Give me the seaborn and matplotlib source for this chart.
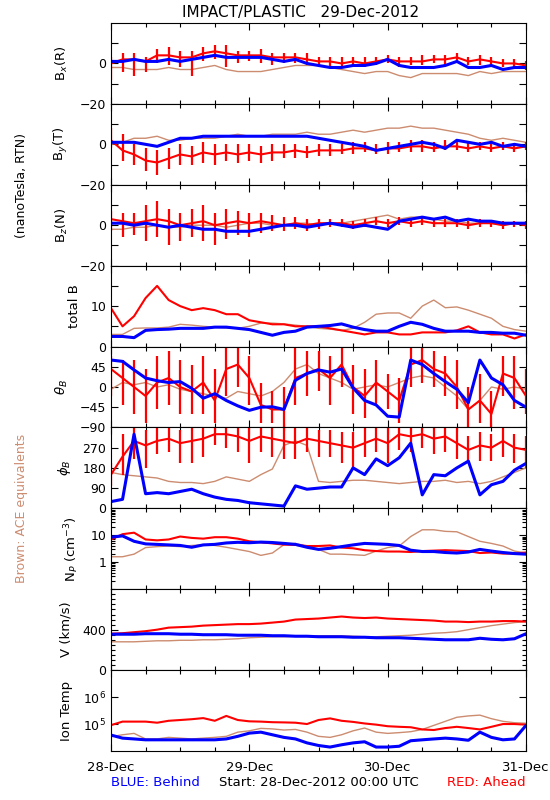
import numpy as np
import matplotlib
matplotlib.use('Agg')
import matplotlib.pyplot as plt
import matplotlib.ticker as mticker
import seaborn as sns

sns.set_theme(style='ticks', rc={'axes.edgecolor': 'black', 'xtick.color': 'black',
                                 'ytick.color': 'black', 'text.color': 'black',
                                 'axes.labelcolor': 'black', 'axes.linewidth': 0.8})
plt.rcParams['font.family'] = ['DejaVu Sans']

RED = '#ff0000'
BLUE = '#0000ff'
BROWN = '#cc8c70'

# hours since 28-Dec-2012 00:00 UTC, 2-hour steps
hours = np.arange(0, 73, 2)
day_labels = ['28-Dec', '29-Dec', '30-Dec', '31-Dec']

# --- Bx (R), nT
bx_blue = [1, 1, 2, 1, 1, 2, 1, 2, 3, 4, 3, 3, 3, 3, 2, 1, 2, 0, -1, -2, -2, -1, -1, 0, 2,
           -1, -2, -2, -2, -1, 1, -2, -2, -1, -3, -2, -2]
bx_red = [0, 2, 2, 1, 4, 4, 3, 3, 5, 6, 5, 4, 4, 4, 3, 3, 3, 2, 1, 1, 0, 1, 0, 1, 2,
          1, 1, 1, 2, 2, 3, 1, 2, 1, 0, 0, -1]
bx_red_lo = [-8, -4, -6, -4, 0, -1, -2, -6, 1, 2, -2, 0, 1, 0, -1, 0, 0, -1, -1, -2, -2, -1, -2, -1, 0,
             -2, -1, -1, 0, -1, 0, -1, -1, -1, -2, -2, -3]
bx_red_hi = [3, 5, 5, 3, 7, 8, 6, 6, 8, 9, 9, 6, 6, 7, 5, 5, 5, 5, 3, 3, 3, 3, 3, 3, 4,
             3, 3, 4, 4, 4, 5, 3, 4, 3, 2, 2, 1]
bx_brown = [-2, -2, -3, -3, -3, -2, -3, -3, -2, -1, -3, -4, -4, -4, -3, -2, -1, -1, -1, -2, -3, -4, -5, -4, -4,
            -6, -7, -5, -5, -5, -5, -6, -4, -5, -4, -4, -4]

# --- By (T), nT
by_blue = [1, 1, 1, 0, -1, 1, 3, 3, 4, 4, 4, 4, 4, 4, 4, 4, 4, 4, 3, 2, 1, 0, -1, -3, -2,
           -1, 0, 1, 0, -2, 2, 1, 0, 1, -1, 0, -1]
by_red = [2, -3, -5, -8, -9, -7, -5, -6, -4, -5, -4, -5, -4, -5, -4, -4, -3, -4, -3, -3, -3, -2, -2, -3, -2,
          -2, -1, -1, -2, -1, -1, -2, -1, -2, -1, -2, -1]
by_red_lo = [-2, -8, -10, -13, -15, -12, -10, -10, -9, -10, -8, -9, -8, -9, -8, -7, -7, -7, -6, -6, -5, -5, -4, -5, -5,
             -4, -4, -4, -4, -3, -3, -4, -3, -4, -3, -4, -3]
by_red_hi = [8, 5, 0, -2, -3, -2, 0, -1, 1, 0, 0, 0, 0, -1, 0, 0, 0, -1, 0, 0, 0, 1, 1, 0, 1,
             1, 2, 2, 1, 2, 2, 1, 1, 0, 1, 0, 1]
by_brown = [0, 1, 3, 3, 4, 2, 2, 3, 3, 3, 4, 5, 4, 4, 5, 5, 5, 6, 5, 5, 6, 7, 6, 7, 8,
            8, 9, 8, 8, 7, 6, 5, 3, 2, 3, 2, 1]

# --- Bz (N), nT
bz_blue = [1, 1, 0, 1, 0, -1, 0, -1, -2, -2, -3, -3, -3, -2, -1, 0, 0, -1, 0, 1, 0, -1, 0, -1, -2,
           2, 3, 4, 3, 4, 2, 3, 2, 2, 1, 1, 1]
bz_red = [3, 2, 1, 2, 3, 2, 0, 1, 2, 0, 1, 2, 1, 2, 1, 0, 1, 0, 1, 1, 1, 0, 1, 2, 1,
          2, 1, 2, 1, 1, 1, 0, 1, 1, 0, 1, 0]
bz_red_lo = [-3, -6, -5, -8, -6, -10, -8, -6, -8, -10, -7, -5, -6, -4, -3, -3, -2, -3, -2, -1, -1, -2, -1, 0, -1,
             0, -1, 0, -1, -1, -1, -2, -1, -1, -2, -1, -2]
bz_red_hi = [7, 6, 6, 10, 12, 8, 6, 8, 10, 6, 8, 7, 6, 6, 5, 4, 4, 3, 3, 3, 3, 2, 3, 4, 3,
             4, 3, 4, 3, 3, 3, 2, 3, 2, 2, 2, 2]
bz_brown = [-2, -2, -1, -1, 0, -1, -1, 0, 0, 0, -1, 0, 1, 1, 0, 0, 1, 1, 0, 1, 1, 2, 3, 4, 5,
            3, 4, 4, 3, 2, 2, 1, 1, 1, 0, 1, 0]

# --- total B, nT
bt_blue = [2.5, 2.5, 2.2, 4, 4.2, 4.3, 4.5, 4.5, 4.5, 4.8, 4.8, 4.5, 4.2, 3.5, 2.8, 3.5, 3.8, 4.8, 5, 5.2,
           5.6, 4.8, 4.2, 3.8, 3.8, 5, 6, 5.5, 4.5, 3.8, 3.8, 3.8, 3.5, 3.5, 3.3, 3.3, 2.8]
bt_red = [9.5, 5, 7.5, 12, 15, 11.5, 10, 9, 9.5, 9, 8, 8, 6.5, 6, 5.5, 5.5, 5, 5, 5, 4.5,
          4, 3.5, 3, 3.5, 3.5, 3, 3, 3.5, 3.5, 3.5, 4, 5, 3.5, 3, 3, 2, 3]
bt_brown = [3, 3, 4.5, 4.6, 4.6, 4.8, 5.5, 5.3, 5, 4.8, 4.6, 4.5, 5, 5.8, 5.8, 5.6, 5.3, 5, 4.5, 4.3,
            4, 4.5, 6, 8, 8.3, 8.3, 7, 10, 11.5, 9.6, 9.8, 9, 8, 7, 5, 4.2, 3.8]

# --- theta_B, deg
th_blue = [60, 57, 38, 20, 14, 10, 12, -3, -25, -15, -30, -42, -52, -45, -44, -50, 15, 30, 38, 33,
           40, -2, -30, -40, -65, -67, 60, 50, 30, 12, -5, -35, 60, 20, 5, -30, -45]
th_red = [40, 20, 0, -20, 10, 20, 0, -10, 10, -30, 40, 50, 20, -40, -50, -50, 20, 30, 40, 20,
          50, 0, -20, 10, -10, -30, 50, 60, 40, 30, 0, -50, -30, -60, 30, 20, -20]
th_red_lo = [-20, -40, -60, -80, -50, -40, -60, -60, -60, -80, -20, 0, -40, -80, -80, -90, -40, -20, -10, -40,
             0, -60, -70, -40, -50, -80, 0, 10, 0, -20, -50, -90, -80, -90, -20, -50, -60]
th_red_hi = [70, 60, 60, 40, 70, 80, 60, 50, 70, 40, 90, 90, 70, 10, -10, 0, 90, 80, 80, 70,
             90, 50, 40, 60, 30, 20, 90, 90, 80, 70, 60, 0, 30, -10, 70, 70, 40]
th_brown = [-5, 10, 5, 10, 0, 5, -5, -10, -15, -20, -25, -10, -15, -20, -10, 10, 40, 50, 30, 20,
            10, -5, 0, 5, 0, 10, 20, 25, 20, 0, -20, -50, -30, 0, -5, 0, -5]

# --- phi_B, deg
ph_blue = [30, 40, 330, 65, 70, 65, 75, 85, 65, 50, 40, 35, 25, 20, 15, 10, 100, 85, 90, 95,
           95, 180, 150, 220, 190, 225, 290, 60, 150, 145, 180, 210, 60, 105, 120, 170, 200]
ph_red = [150, 230, 300, 280, 300, 310, 290, 300, 310, 330, 330, 320, 300, 320, 310, 300, 290, 310, 300, 290,
          280, 270, 290, 310, 290, 330, 320, 330, 310, 320, 290, 260, 280, 270, 300, 270, 260]
ph_red_lo = [100, 150, 220, 180, 240, 250, 200, 200, 230, 280, 270, 250, 200, 250, 230, 220, 220, 250, 230, 230,
             200, 180, 230, 250, 200, 260, 250, 270, 240, 250, 220, 200, 210, 210, 230, 200, 180]
ph_red_hi = [200, 330, 360, 350, 360, 360, 350, 360, 360, 360, 360, 360, 360, 360, 360, 360, 360, 360, 350, 350,
             340, 340, 360, 360, 360, 360, 360, 360, 360, 360, 360, 320, 340, 330, 360, 330, 320]
ph_brown = [160, 150, 145, 140, 135, 120, 115, 115, 110, 120, 140, 130, 120, 150, 175, 280, 300, 280, 120, 115,
            120, 125, 125, 120, 115, 110, 115, 120, 120, 125, 115, 120, 110, 120, 140, 160, 180]

# --- proton density, cm^-3
np_blue = [8.5, 9.5, 6, 4.8, 4.6, 4.4, 4.2, 3.6, 4.4, 4.6, 5.2, 5.5, 5.3, 5.6, 5.4, 5.0, 4.6, 3.6, 3.0, 3.3,
           3.8, 4.4, 5.0, 4.8, 4.6, 4.2, 2.8, 2.5, 2.5, 2.3, 2.2, 2.4, 3.0, 2.6, 2.3, 2.1, 2.0]
np_red = [7, 11, 12.5, 7, 6.5, 7, 9, 8, 7.5, 8.5, 8.5, 7.5, 6, 5.5, 5, 4.5, 4.4, 4, 4, 4.2,
          3.5, 3.3, 2.8, 2.6, 2.5, 2.5, 2.4, 2.6, 2.7, 2.8, 2.7, 2.6, 2.2, 2.3, 2.1, 2.1, 2.3]
np_brown = [1.6, 1.6, 2, 3.5, 3.8, 4.0, 3.8, 4.2, 4.4, 4.2, 3.6, 3.0, 2.5, 1.8, 2.2, 4.5, 5.0, 4.0, 3.0, 2.0,
            2.0, 1.9, 1.8, 2.6, 3.5, 4.0, 9, 16, 16, 14, 13.5, 9, 6, 5, 4, 2.6, 2.2]

# --- bulk speed, km/s
v_blue = [355, 355, 355, 360, 360, 360, 355, 355, 350, 350, 350, 345, 345, 345, 340, 340, 335, 335, 330, 330,
          330, 325, 325, 320, 320, 320, 315, 310, 305, 300, 300, 300, 315, 305, 300, 310, 360]
v_red = [360, 365, 375, 385, 400, 420, 425, 430, 440, 445, 450, 455, 455, 460, 470, 480, 500, 505, 510, 520,
         530, 520, 515, 520, 510, 505, 500, 495, 490, 480, 480, 475, 480, 480, 485, 485, 480]
v_brown = [280, 280, 280, 285, 290, 290, 295, 295, 300, 300, 305, 310, 320, 325, 330, 330, 335, 335, 340, 340,
           340, 335, 330, 330, 335, 340, 345, 355, 365, 370, 380, 400, 420, 440, 455, 470, 480]

# --- ion temperature, 10^3 K
t_blue = [39, 30, 28, 26, 26, 26, 26, 26, 26, 26, 28, 35, 46, 50, 40, 32, 28, 20, 16, 14,
          17, 20, 22, 14, 14, 15, 24, 26, 28, 30, 28, 25, 50, 32, 26, 28, 89]
t_red = [91, 123, 123, 123, 112, 132, 141, 151, 166, 132, 200, 141, 126, 123, 117, 115, 112, 100, 141, 162,
         132, 120, 105, 95, 83, 79, 76, 63, 60, 71, 79, 71, 63, 79, 100, 100, 95]
t_brown = [34, 40, 45, 28, 28, 32, 30, 28, 30, 32, 35, 50, 56, 69, 66, 60, 63, 50, 35, 32,
           40, 56, 71, 50, 45, 48, 52, 63, 89, 126, 178, 200, 214, 158, 126, 112, 107]

panels = [
    ('B$_x$(R)', (-20, 20), [-20, -10, 0, 10], ['\u221220', '', '0', ''],
     bx_brown, bx_red, bx_blue, (bx_red_lo, bx_red_hi)),
    ('B$_y$(T)', (-20, 20), [-20, -10, 0, 10], ['\u221220', '', '0', ''],
     by_brown, by_red, by_blue, (by_red_lo, by_red_hi)),
    ('B$_z$(N)', (-20, 20), [-20, -10, 0, 10], ['\u221220', '', '0', ''],
     bz_brown, bz_red, bz_blue, (bz_red_lo, bz_red_hi)),
    ('total B', (0, 20), [0, 5, 10, 15], ['0', '', '10', ''],
     bt_brown, bt_red, bt_blue, None),
    (r'$\theta_B$', (-90, 90), [-90, -45, 0, 45], ['\u221290', '\u221245', '0', '45'],
     th_brown, th_red, th_blue, (th_red_lo, th_red_hi)),
    (r'$\phi_B$', (0, 360), [0, 90, 180, 270], ['0', '90', '180', '270'],
     ph_brown, ph_red, ph_blue, (ph_red_lo, ph_red_hi)),
    ('N$_P$ (cm$^{-3}$)', (0.1, 100), [1, 10], ['1', '10'],
     np_brown, np_red, np_blue, None),
    ('V (km/s)', (0, 800), [0, 400], ['0', '400'],
     v_brown, v_red, v_blue, None),
    ('Ion Temp', (1e4, 1e7), [1e5, 1e6], ['10$^5$', '10$^6$'],
     [t * 1e3 for t in t_brown], [t * 1e3 for t in t_red], [t * 1e3 for t in t_blue], None),
]

fig, axes = plt.subplots(9, 1, figsize=(5.5, 8), dpi=100, sharex=True)
fig.subplots_adjust(left=111 / 550, right=526 / 550, top=1 - 23 / 800,
                    bottom=1 - 751 / 800, hspace=0)

for ax, (label, ylim, yt, ytl, brown, red, blue, spread) in zip(axes, panels):
    if label in ('N$_P$ (cm$^{-3}$)', 'Ion Temp'):
        ax.set_yscale('log')
    sns.lineplot(x=hours, y=brown, color=BROWN, lw=1.0, ax=ax, legend=False)
    if spread is not None:
        # scatter of the Ahead samples at each step
        ax.vlines(hours, spread[0], spread[1], color=RED, lw=1.6)
    sns.lineplot(x=hours, y=red, color=RED, lw=1.5, ax=ax, legend=False)
    sns.lineplot(x=hours, y=blue, color=BLUE, lw=2.2, ax=ax, legend=False)

    ax.set_ylim(*ylim)
    ax.set_xlim(0, 72)
    ax.set_yticks(yt)
    ax.set_yticklabels(ytl)
    if label == 'N$_P$ (cm$^{-3}$)':
        ax.yaxis.set_minor_locator(mticker.LogLocator(base=10, subs=np.arange(2, 10)))
        ax.yaxis.set_minor_formatter(mticker.NullFormatter())
    elif label == 'V (km/s)':
        ax.yaxis.set_minor_locator(mticker.MultipleLocator(50))
    elif label == 'Ion Temp':
        ax.yaxis.set_minor_locator(mticker.NullLocator())
    ax.set_ylabel(label, fontsize=9.5, labelpad=7)
    ax.set_xlabel('')

    ax.set_xticks([0, 24, 48, 72])
    ax.xaxis.set_minor_locator(mticker.MultipleLocator(6))
    ax.tick_params(which='both', direction='in', top=True, right=True, width=0.8)
    ax.tick_params(which='major', length=5)
    ax.tick_params(which='minor', length=3)
    ax.tick_params(axis='y', labelsize=9, pad=3.5)
    ax.tick_params(axis='x', labelsize=9.5, pad=7)

axes[-1].set_xticklabels(day_labels)

fig.text(301 / 550, 1 - 12 / 800, 'IMPACT/PLASTIC   29-Dec-2012', ha='center', va='center', fontsize=11)
fig.text(22 / 550, 1 - 185 / 800, '(nanoTesla, RTN)', rotation=90, ha='center', va='center', fontsize=9)
fig.text(22 / 550, 1 - 508 / 800, 'Brown: ACE equivalents', rotation=90, ha='center', va='center',
         fontsize=9, color=BROWN)
fig.text(111 / 550, 1 - 783 / 800, 'BLUE: Behind', ha='left', va='center', fontsize=9.5, color=BLUE)
fig.text(319 / 550, 1 - 783 / 800, 'Start: 28-Dec-2012 00:00 UTC', ha='center', va='center', fontsize=9.5)
fig.text(526 / 550, 1 - 783 / 800, 'RED: Ahead', ha='right', va='center', fontsize=9.5, color=RED)

fig.savefig('out.png', dpi=100)
